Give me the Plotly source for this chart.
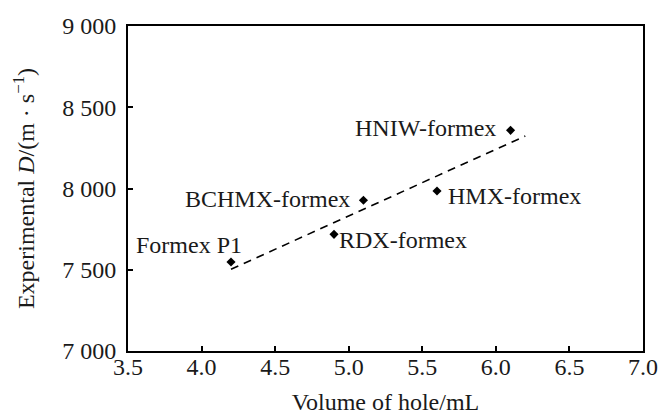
import plotly.graph_objects as go

names = ["Formex P1", "RDX-formex", "BCHMX-formex", "HMX-formex", "HNIW-formex"]
hole_volume = [4.2, 4.9, 5.1, 5.6, 6.1]
detonation_velocity = [7548, 7718, 7928, 7985, 8358]

fit_x = [4.2, 6.2]
fit_y = [7503, 8323]

x_ticks = [3.5, 4.0, 4.5, 5.0, 5.5, 6.0, 6.5, 7.0]
x_ticktext = ["3.5", "4.0", "4.5", "5.0", "5.5", "6.0", "6.5", "7.0"]
y_ticks = [7000, 7500, 8000, 8500, 9000]
y_ticktext = ["7 000", "7 500", "8 000", "8 500", "9 000"]

# label placement (anchor, pixel shifts)
label_pos = {
    "Formex P1": ("center", "middle", -42, 17),
    "RDX-formex": ("left", "middle", 3, -6),
    "BCHMX-formex": ("right", "middle", -11, 1),
    "HMX-formex": ("left", "middle", 9, -5),
    "HNIW-formex": ("right", "middle", -13, 2),
}

FONT = "Liberation Serif"
FS = 24
TXT = "#1a1a1a"

fig = go.Figure()
fig.add_trace(go.Scatter(x=fit_x, y=fit_y, mode="lines",
                         line=dict(color="black", width=1.6, dash="8px,6px"),
                         showlegend=False))
fig.add_trace(go.Scatter(x=hole_volume, y=detonation_velocity, mode="markers",
                         marker=dict(symbol="diamond", size=7, color="black"),
                         showlegend=False))

for n, xv, yv in zip(names, hole_volume, detonation_velocity):
    xa, ya, dx, dy = label_pos[n]
    fig.add_annotation(x=xv, y=yv, text=n, showarrow=False, xanchor=xa, yanchor=ya,
                       xshift=dx, yshift=dy, font=dict(family=FONT, size=FS, color=TXT))

axis_common = dict(showgrid=False, zeroline=False, showline=True, linecolor="black",
                   linewidth=2, mirror=True, ticks="inside", ticklen=5, tickwidth=2,
                   tickcolor="black", tickfont=dict(family=FONT, size=FS, color=TXT),
                   automargin=False)

fig.update_xaxes(range=[3.5, 7.0], tickvals=x_ticks, ticktext=x_ticktext,
                 ticklabelstandoff=-7,
                 title=dict(text="Volume of hole/mL", font=dict(family=FONT, size=FS, color=TXT),
                            standoff=14),
                 **axis_common)
fig.update_yaxes(range=[7000, 9000], tickvals=y_ticks, ticktext=y_ticktext,
                 ticklabelstandoff=5,
                 title=dict(text="Experimental <i>D</i>/(m · s<sup>−1</sup>)",
                            font=dict(family=FONT, size=FS, color=TXT), standoff=21),
                 **axis_common)

fig.update_layout(width=662, height=419, margin=dict(l=128, r=19, t=26, b=68),
                  plot_bgcolor="white", paper_bgcolor="white",
                  font=dict(family=FONT, color=TXT))

fig.write_html("out.html", config={"displayModeBar": False},
               post_script="document.body.style.margin='0';document.body.style.overflow='hidden';")
